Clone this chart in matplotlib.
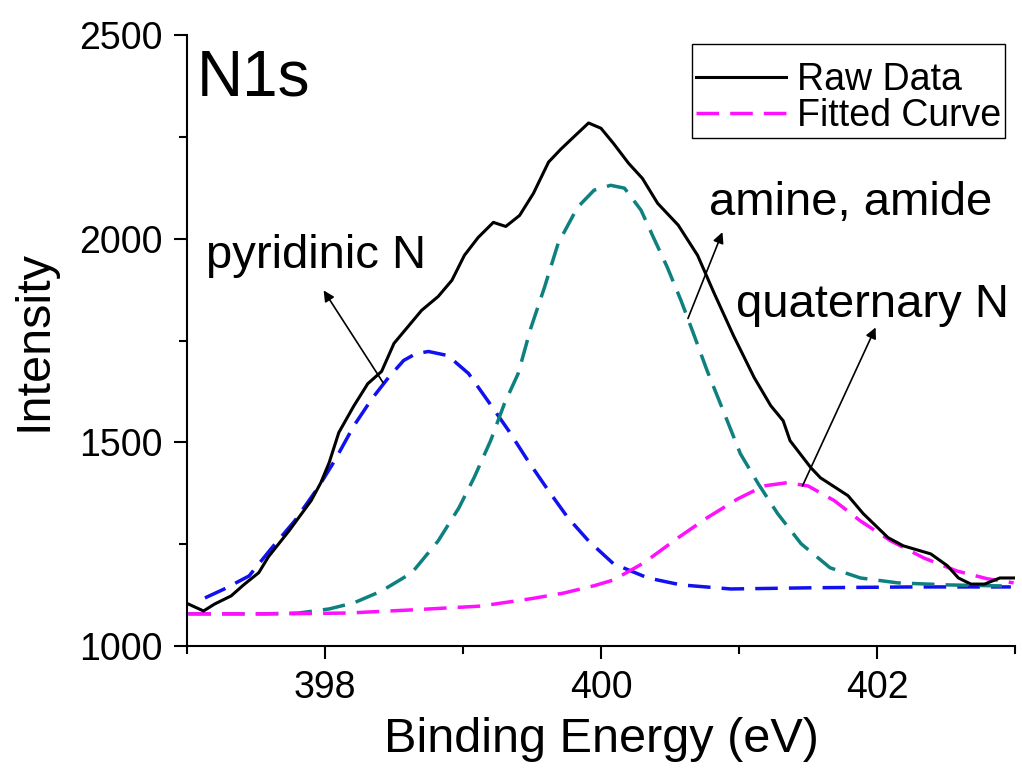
"""N1s XPS spectrum with fitted components."""
import matplotlib
matplotlib.use("Agg")
import matplotlib.pyplot as plt
from matplotlib.ticker import MultipleLocator

plt.rcParams['font.family'] = ['Liberation Sans', 'DejaVu Sans']

# Raw spectrum
raw_energy = [397.01, 397.12, 397.20, 397.32, 397.41, 397.52, 397.59, 397.74, 397.90,
              397.97, 398.03, 398.10, 398.21, 398.31, 398.41, 398.50, 398.70, 398.82,
              398.92, 399.01, 399.11, 399.22, 399.31, 399.41, 399.51, 399.62, 399.71,
              399.80, 399.91, 400.00, 400.09, 400.20, 400.30, 400.41, 400.56, 400.70,
              400.82, 400.96, 401.11, 401.23, 401.32, 401.37, 401.52, 401.59, 401.79,
              401.90, 402.08, 402.19, 402.39, 402.51, 402.59, 402.68, 402.78, 402.89,
              402.99]
raw_intensity = [1103, 1086, 1103, 1123, 1150, 1180, 1219, 1283, 1357,
                 1401, 1450, 1524, 1590, 1644, 1674, 1743, 1824, 1858,
                 1898, 1959, 2003, 2040, 2030, 2057, 2111, 2188, 2220,
                 2249, 2284, 2271, 2234, 2185, 2148, 2087, 2033, 1959,
                 1866, 1762, 1659, 1590, 1553, 1504, 1438, 1413, 1369,
                 1325, 1266, 1246, 1226, 1197, 1167, 1152, 1152, 1167,
                 1167]

# Fitted component: pyridinic N (blue)
pyr_energy = [397.13, 397.27, 397.45, 397.61, 397.78, 397.95, 398.07, 398.21, 398.34,
              398.46, 398.57, 398.66, 398.75, 398.89, 399.04, 399.18, 399.33, 399.47,
              399.62, 399.76, 399.91, 400.09, 400.34, 400.58, 400.94, 401.54, 402.26,
              402.97]
pyr_intensity = [1118, 1140, 1172, 1239, 1307, 1389, 1455, 1541, 1607,
                 1659, 1701, 1718, 1723, 1713, 1669, 1602, 1529, 1455,
                 1381, 1315, 1258, 1202, 1167, 1150, 1140, 1143, 1145,
                 1145]

# Fitted component: amine, amide (teal)
amine_energy = [397.01, 397.56, 397.81, 398.03, 398.21, 398.41, 398.63, 398.82, 398.97,
                399.08, 399.20, 399.30, 399.40, 399.49, 399.59, 399.69, 399.83, 399.95,
                400.07, 400.17, 400.29, 400.38, 400.48, 400.58, 400.67, 400.77, 400.89,
                401.01, 401.14, 401.28, 401.45, 401.66, 401.88, 402.15, 402.51, 402.97]
amine_intensity = [1079, 1079, 1081, 1091, 1106, 1135, 1180, 1258, 1339,
                   1413, 1504, 1595, 1669, 1779, 1880, 1989, 2077, 2119,
                   2131, 2124, 2070, 2003, 1930, 1848, 1767, 1675, 1574,
                   1472, 1398, 1325, 1251, 1192, 1167, 1155, 1150, 1147]

# Fitted component: quaternary N (magenta)
quat_energy = [397.01, 397.69, 398.17, 398.65, 399.13, 399.49, 399.73, 399.95, 400.09,
               400.31, 400.56, 400.77, 400.99, 401.18, 401.35, 401.50, 401.69, 401.88,
               402.10, 402.34, 402.58, 402.80, 402.99]
quat_intensity = [1079, 1079, 1081, 1089, 1098, 1116, 1130, 1148, 1162,
                  1204, 1266, 1315, 1361, 1393, 1401, 1393, 1357, 1307,
                  1258, 1216, 1184, 1165, 1155]

# Labels: (text, text x, text y, arrow tail, arrow head)
labels = [
    ("pyridinic N", 397.14, 1927, (398.42, 1647), (397.99, 1873)),
    ("amine, amide", 400.78, 2057, (400.63, 1804), (400.88, 2016)),
    ("quaternary N", 400.98, 1807, (401.46, 1393), (401.99, 1782)),
]

fig = plt.figure(figsize=(10.22, 7.79), dpi=100)
ax = fig.add_axes([187 / 1022, 1 - 646 / 779, 828 / 1022, 611 / 779])

dash = (0, (6.5, 3.2))
ax.plot(raw_energy, raw_intensity, color="black", lw=2.2, label="Raw Data", zorder=5)
ax.plot(pyr_energy, pyr_intensity, color="#1010f0", lw=2.5, linestyle=dash)
ax.plot(amine_energy, amine_intensity, color="#0f8080", lw=2.5, linestyle=dash)
ax.plot(quat_energy, quat_intensity, color="#ff10ff", lw=2.5, linestyle=dash,
        label="Fitted Curve")

ax.set_xlim(397.0, 403.0)
ax.set_ylim(1000, 2500)
ax.xaxis.set_major_locator(MultipleLocator(2))
ax.xaxis.set_minor_locator(MultipleLocator(1))
ax.yaxis.set_major_locator(MultipleLocator(500))
ax.yaxis.set_minor_locator(MultipleLocator(250))

for side in ("top", "right"):
    ax.spines[side].set_visible(False)
for side in ("left", "bottom"):
    ax.spines[side].set_linewidth(1.5)

ax.tick_params(which="major", direction="out", length=9.5, width=1.5,
               labelsize=27, pad=8)
ax.tick_params(which="minor", direction="out", length=5.5, width=1.5)

ax.set_xlabel("Binding Energy (eV)", fontsize=35, labelpad=8)
ax.set_ylabel("Intensity", fontsize=35, labelpad=16)

ax.text(397.07, 2352, "N1s", fontsize=46, va="baseline", ha="left")

for text, tx, ty, tail, head in labels:
    ax.text(tx, ty, text, fontsize=34, va="baseline", ha="left")
    ax.annotate("", xy=head, xytext=tail,
                arrowprops=dict(arrowstyle="-|>", color="black", lw=1.2,
                                mutation_scale=16, shrinkA=0, shrinkB=0))

leg = ax.legend(loc="upper right", bbox_to_anchor=(0.988, 0.985), fontsize=27,
                handlelength=2.4, handletextpad=0.3, labelspacing=0.0,
                borderpad=0.1, borderaxespad=0, fancybox=False, framealpha=1,
                title=" ", title_fontsize=11)
leg.get_frame().set_edgecolor("black")
leg.get_frame().set_linewidth(1.0)

fig.savefig("out.png", dpi=100)
